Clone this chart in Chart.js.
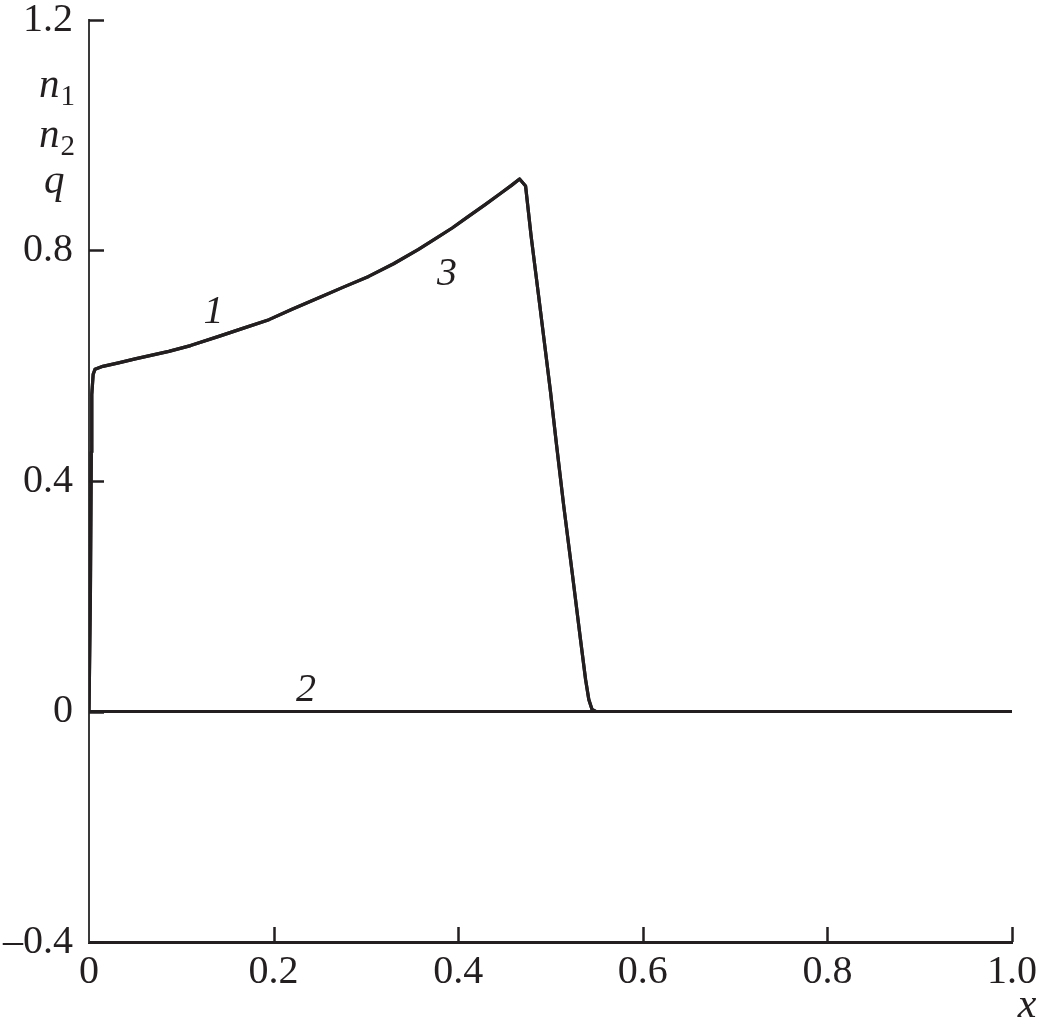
<!DOCTYPE html>
<html>
<head>
<meta charset="utf-8">
<script src="https://cdn.jsdelivr.net/npm/chart.js@4/dist/chart.umd.min.js"></script>
<style>
html,body{margin:0;padding:0;background:#fff;}
canvas{display:block;}
</style>
</head>
<body>
<canvas id="c" width="1039" height="1028"></canvas>
<script>
// ---- data ----
const xs = [0, 0.0015, 0.0025, 0.003, 0.0045, 0.0065, 0.015, 0.032, 0.05, 0.0865, 0.11, 0.1406, 0.165, 0.195, 0.22, 0.249, 0.275, 0.303, 0.33, 0.357, 0.375, 0.3935, 0.41, 0.4296, 0.445, 0.4577, 0.4665, 0.473, 0.479, 0.4883, 0.4928, 0.500, 0.5063, 0.5144, 0.5235, 0.5325, 0.538, 0.5415, 0.545, 0.549, 0.6, 0.8, 1.0];
const n1 = [0, 0.20, 0.45, 0.55, 0.585, 0.594, 0.599, 0.605, 0.612, 0.625, 0.635, 0.651, 0.664, 0.680, 0.698, 0.718, 0.736, 0.755, 0.777, 0.802, 0.820, 0.839, 0.858, 0.880, 0.898, 0.913, 0.924, 0.912, 0.825, 0.706, 0.648, 0.555, 0.466, 0.356, 0.241, 0.125, 0.0555, 0.021, 0.0035, 0, 0, 0, 0];
const q  = [0, 0.20, 0.45, 0.55, 0.585, 0.594, 0.599, 0.605, 0.612, 0.625, 0.635, 0.651, 0.664, 0.680, 0.698, 0.718, 0.736, 0.755, 0.777, 0.802, 0.820, 0.839, 0.858, 0.880, 0.898, 0.913, 0.924, 0.912, 0.825, 0.706, 0.648, 0.555, 0.466, 0.356, 0.241, 0.125, 0.0555, 0.021, 0.0035, 0, 0, 0, 0];
const n2X = [0, 0.2, 0.4, 0.6, 0.8, 1.0];
const n2  = [0, 0, 0, 0, 0, 0];
const xTickLabels = ['0', '0.2', '0.4', '0.6', '0.8', '1.0'];
const yTickLabels = ['\u20130.4', '0', '0.4', '0.8', '1.2'];
const curveLabels = [
  {text: '1', x: 0.135, y: 0.675},
  {text: '3', x: 0.388, y: 0.74},
  {text: '2', x: 0.235, y: 0.018}
];
const yTitle = [['n', '1'], ['n', '2'], ['q', '']];
const xTitle = 'x';

const INK = '#231f20';
const FONT = "'Liberation Serif', 'Times New Roman', serif";

function pts(xa, ya) { return xa.map((x, i) => ({x: x, y: ya[i]})); }

const bgPlugin = {
  id: 'bg',
  beforeDraw(chart) {
    const c = chart.ctx;
    c.save(); c.fillStyle = '#fff'; c.fillRect(0, 0, chart.width, chart.height); c.restore();
  }
};

const decoPlugin = {
  id: 'deco',
  afterDraw(chart) {
    const c = chart.ctx;
    const xS = chart.scales.x, yS = chart.scales.y;
    const a = chart.chartArea;
    c.save();
    // inward tick marks
    c.strokeStyle = INK;
    c.lineWidth = 2.5;
    yS.ticks.forEach(t => {
      const py = Math.round(yS.getPixelForValue(t.value)) + 0.5;
      c.beginPath(); c.moveTo(a.left, py); c.lineTo(a.left + 15, py); c.stroke();
    });
    xS.ticks.forEach(t => {
      if (t.value === 0) return;
      const px = Math.round(xS.getPixelForValue(t.value)) + 0.5;
      c.beginPath(); c.moveTo(px, a.bottom); c.lineTo(px, a.bottom - 15); c.stroke();
    });
    // curve labels
    c.fillStyle = INK;
    c.font = "italic 40px " + FONT;
    c.textAlign = 'center';
    c.textBaseline = 'alphabetic';
    curveLabels.forEach(l => {
      c.fillText(l.text, xS.getPixelForValue(l.x), yS.getPixelForValue(l.y));
    });
    // y title stacked
    const baseY = [97, 147, 193];
    yTitle.forEach((p, i) => {
      c.textAlign = 'left';
      c.font = "italic 41px " + FONT;
      const x0 = p[0] === 'q' ? 44 : 39;
      c.fillText(p[0], x0, baseY[i]);
      if (p[1]) {
        const w = c.measureText(p[0]).width;
        c.font = "29px " + FONT;
        c.fillText(p[1], x0 + w + 1, baseY[i] + 8);
      }
    });
    // x title
    c.font = "italic 42px " + FONT;
    c.textAlign = 'center';
    c.fillText(xTitle, 1027, 1017);
    c.restore();
  }
};

new Chart(document.getElementById('c'), {
  type: 'line',
  data: {
    datasets: [
      {label: 'n1', data: pts(xs, n1), borderColor: INK, borderWidth: 3.2, pointRadius: 0, tension: 0, borderJoinStyle: 'round', fill: false},
      {label: 'n2', data: pts(n2X, n2), borderColor: INK, borderWidth: 3, pointRadius: 0, tension: 0, fill: false},
      {label: 'q', data: pts(xs, q), borderColor: INK, borderWidth: 3.2, pointRadius: 0, tension: 0, borderJoinStyle: 'round', fill: false}
    ]
  },
  options: {
    responsive: false,
    animation: false,
    devicePixelRatio: 1,
    layout: {padding: {left: 0, right: 27, top: 20, bottom: 0}},
    plugins: {legend: {display: false}, tooltip: {enabled: false}},
    scales: {
      x: {
        type: 'linear', min: 0, max: 1,
        ticks: {
          stepSize: 0.2, maxRotation: 0, autoSkip: false, padding: 6,
          color: INK, font: {family: FONT, size: 40},
          callback: (v, i) => xTickLabels[i]
        },
        grid: {display: false, drawTicks: false},
        border: {display: true, color: INK, width: 3},
        afterFit(s) { s.height = 86; s.paddingLeft = 0; s.paddingRight = 0; }
      },
      y: {
        type: 'linear', min: -0.4, max: 1.2,
        ticks: {
          stepSize: 0.4, autoSkip: false, padding: 16,
          color: INK, font: {family: FONT, size: 40},
          callback: (v, i) => yTickLabels[i]
        },
        grid: {display: false, drawTicks: false},
        border: {display: true, color: '#3a3a3a', width: 2},
        afterFit(s) { s.width = 89; s.paddingTop = 0; s.paddingBottom = 0; }
      }
    }
  },
  plugins: [bgPlugin, decoPlugin]
});
</script>
</body>
</html>
